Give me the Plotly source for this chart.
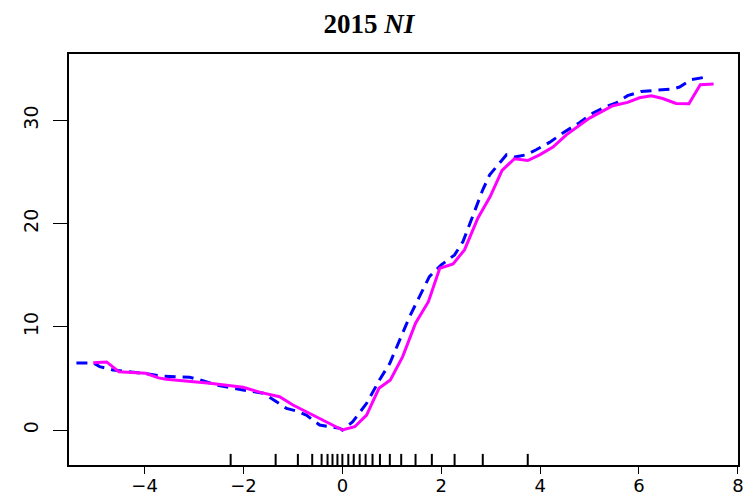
import plotly.graph_objects as go

# Partial-dependence style curves: solid magenta and dashed blue
MAG_X = [-5.04, -4.77, -4.52, -3.98, -3.72, -3.56, -2.68, -2.01, -1.64, -1.27, -1.00, -0.59,
         0.00, 0.25, 0.49, 0.74, 0.97, 1.22, 1.48, 1.74, 1.97, 2.24, 2.47, 2.74, 2.99,
         3.23, 3.48, 3.75, 3.99, 4.26, 4.53, 5.00, 5.47, 5.77, 6.01, 6.25, 6.48, 6.75,
         7.01, 7.24, 7.51]
MAG_Y = [6.53, 6.60, 5.65, 5.50, 5.05, 4.92, 4.53, 4.14, 3.62, 3.23, 2.42, 1.45,
         0.00, 0.32, 1.45, 4.04, 4.85, 7.11, 10.35, 12.44, 15.68, 16.10, 17.46, 20.53, 22.63,
         25.15, 26.29, 26.12, 26.67, 27.42, 28.61, 30.23, 31.43, 31.75, 32.20, 32.40, 32.13, 31.65,
         31.62, 33.46, 33.53]

BLUE_X = [-5.38, -5.04, -4.91, -4.64, -4.03, -3.69, -3.09, -2.88, -2.55, -2.34, -2.01, -1.60,
          -1.40, -1.13, -0.93, -0.73, -0.46, -0.05, 0.00, 0.21, 0.49, 0.75, 0.96, 1.16, 1.36,
          1.56, 1.76, 2.00, 2.27, 2.44, 2.57, 2.71, 2.84, 2.98, 3.18, 3.32, 3.48, 3.72, 3.92,
          4.19, 4.46, 4.80, 5.07, 5.34, 5.54, 5.77, 6.04, 6.28, 6.68, 6.82, 7.05, 7.36]
BLUE_Y = [6.50, 6.50, 6.14, 5.82, 5.50, 5.24, 5.11, 4.85, 4.36, 4.20, 3.88, 3.56,
          2.91, 2.10, 1.84, 1.45, 0.48, 0.16, 0.00, 0.80, 2.59, 4.85, 6.47, 8.73, 10.99,
          12.93, 14.87, 16.00, 16.97, 18.26, 19.88, 21.66, 23.28, 24.73, 25.87, 26.67, 26.45, 26.67, 27.16,
          27.87, 28.78, 29.81, 30.72, 31.36, 31.69, 32.40, 32.81, 32.91, 33.05, 33.24, 33.95, 34.21]

# Rug of predictor quantiles along the x axis
RUG = [-2.26, -1.35, -0.90, -0.61, -0.42, -0.30, -0.20, -0.10, 0.00, 0.12, 0.23, 0.35,
       0.47, 0.61, 0.76, 0.96, 1.19, 1.48, 1.81, 2.27, 2.84, 3.75]

X_TICKS = [-4, -2, 0, 2, 4, 6, 8]
Y_TICKS = [0, 10, 20, 30]

fig = go.Figure()
fig.add_trace(go.Scatter(x=BLUE_X, y=BLUE_Y, mode="lines",
                         line=dict(color="#0000FF", width=3, dash="11px,7px"),
                         showlegend=False, hoverinfo="skip"))
fig.add_trace(go.Scatter(x=MAG_X, y=MAG_Y, mode="lines",
                         line=dict(color="#FF00FF", width=3),
                         showlegend=False, hoverinfo="skip"))

shapes = [dict(type="line", xref="x", yref="y domain", x0=v, x1=v, y0=0, y1=0.027,
               line=dict(color="black", width=2)) for v in RUG]

x_font = dict(family="DejaVu Sans, sans-serif", size=18, color="black")
y_font = dict(family="DejaVu Sans, sans-serif", size=19, color="black")

fig.update_layout(
    width=745, height=498,
    margin=dict(l=69, r=7, t=54, b=33, autoexpand=False),
    paper_bgcolor="white", plot_bgcolor="white",
    shapes=shapes,
    title=dict(text="<b>2015 <i>NI</i></b>", x=0.495, xref="container", xanchor="center",
               y=0.953, yref="container", yanchor="middle",
               font=dict(family="Liberation Serif, Times New Roman, serif", size=27, color="black")),
    xaxis=dict(range=[-5.53, 8.003], tickvals=X_TICKS, ticks="outside", ticklen=7,
               tickwidth=1, tickcolor="black", showline=True, mirror=True,
               linecolor="black", linewidth=1.5, showgrid=False, zeroline=False,
               tickfont=x_font, ticklabelstandoff=-3),
    yaxis=dict(range=[-3.39, 36.44], tickvals=Y_TICKS, ticks="outside", ticklen=14,
               tickwidth=1, tickcolor="black", showline=True, mirror=True,
               linecolor="black", linewidth=1.5, showgrid=False, zeroline=False,
               tickangle=-90, tickfont=y_font, ticklabelstandoff=8),
)

fig.write_html("out.html")
